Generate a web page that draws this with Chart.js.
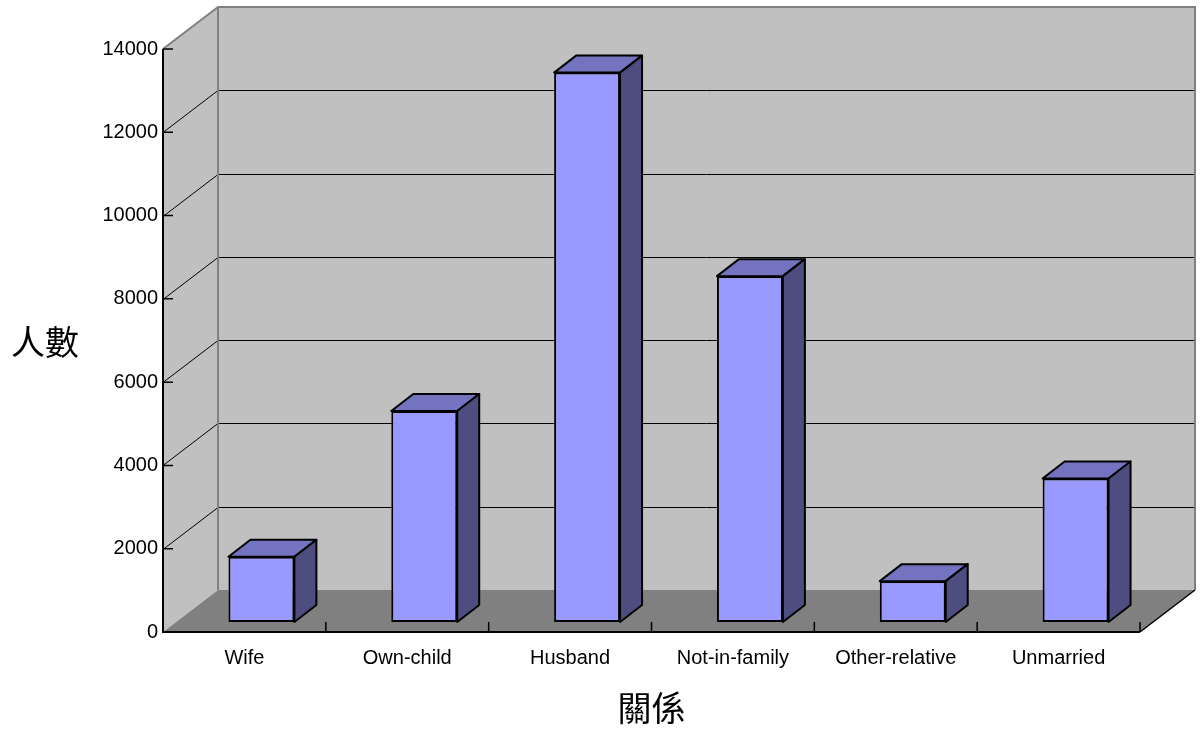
<!doctype html>
<html lang="zh-Hant">
  <head>
    <meta charset="utf-8">
    <title>關係 / 人數</title>
    <style>
      * {
        margin: 0;
        padding: 0;
      }
      body {
        background: #fff;
      }
      .chartBox {
        width: 1200px;
        height: 731px;
      }
    </style>
  </head>
  <body>
    <div class="chartBox">
      <canvas id="myChart" width="1200" height="731"></canvas>
    </div>
    <script src="https://cdn.jsdelivr.net/npm/chart.js/dist/chart.umd.min.js"></script>
    <script>
    // data
    const categories = ['Wife', 'Own-child', 'Husband', 'Not-in-family', 'Other-relative', 'Unmarried'];
    const counts = [1568, 5068, 13193, 8305, 981, 3446];
    const yMax = 14000;
    const yStep = 2000;
    const xTitle = '關係';
    const yTitle = '人數';

    // 3d look: wall depth, bar offset into the floor, bar depth
    const WALL_DX = 55, WALL_DY = -42;
    const SHIFT_X = 17, SHIFT_Y = -10;
    const DEPTH_X = 22, DEPTH_Y = -17;

    const poly = (ctx, pts) => {
      ctx.beginPath();
      ctx.moveTo(pts[0][0], pts[0][1]);
      for (let i = 1; i < pts.length; i++) ctx.lineTo(pts[i][0], pts[i][1]);
      ctx.closePath();
    };

    const box3d = {
      id: 'box3d',
      beforeDatasetsDraw: (chart) => {
        const { ctx, chartArea: { left, right, top, bottom }, scales: { x, y } } = chart;
        const bl = left + WALL_DX, br = right + WALL_DX;
        const bt = top + WALL_DY, bb = bottom + WALL_DY;

        ctx.save();
        // walls and floor
        ctx.fillStyle = '#c0c0c0';
        poly(ctx, [[left, bottom], [bl, bb], [bl, bt], [left, top]]);
        ctx.fill();
        ctx.fillRect(bl, bt, br - bl, bb - bt);
        ctx.fillStyle = '#808080';
        poly(ctx, [[left, bottom], [bl, bb], [br, bb], [right, bottom]]);
        ctx.fill();

        // gridlines across side + back wall
        ctx.strokeStyle = '#000';
        ctx.lineWidth = 1;
        y.ticks.forEach(t => {
          if (t.value === 0 || t.value === yMax) return;
          const py = Math.round(y.getPixelForValue(t.value)) + 0.5;
          ctx.beginPath();
          ctx.moveTo(left, py);
          ctx.lineTo(bl, py + WALL_DY);
          ctx.lineTo(br, py + WALL_DY);
          ctx.stroke();
        });

        // wall edges
        ctx.strokeStyle = '#808080';
        ctx.lineWidth = 2;
        ctx.beginPath();
        ctx.moveTo(left, top);
        ctx.lineTo(bl, bt);
        ctx.lineTo(br, bt);
        ctx.lineTo(br, bb);
        ctx.moveTo(bl, bt);
        ctx.lineTo(bl, bb);
        ctx.stroke();

        // floor front-right edge
        ctx.strokeStyle = '#000';
        ctx.lineWidth = 1.5;
        ctx.beginPath();
        ctx.moveTo(right, bottom);
        ctx.lineTo(br, bb);
        ctx.stroke();

        // axis lines
        ctx.lineWidth = 2;
        ctx.beginPath();
        ctx.moveTo(left, top);
        ctx.lineTo(left, bottom);
        ctx.lineTo(right, bottom);
        ctx.stroke();

        // tick marks
        ctx.lineWidth = 1.5;
        ctx.beginPath();
        y.ticks.forEach(t => {
          const py = y.getPixelForValue(t.value);
          ctx.moveTo(left, py);
          ctx.lineTo(left + 10, py);
        });
        for (let k = 1; k <= categories.length; k++) {
          const px = left + (right - left) * k / categories.length;
          ctx.moveTo(px, bottom);
          ctx.lineTo(px, bottom - 10);
        }
        ctx.stroke();
        ctx.restore();

        // bars sit a little way back on the floor
        ctx.save();
        ctx.translate(SHIFT_X, SHIFT_Y);
      },
      afterDatasetsDraw: (chart) => {
        const { ctx, chartArea: { left, right } } = chart;
        const meta = chart.getDatasetMeta(0);

        ctx.lineWidth = 2;
        ctx.lineJoin = 'round';
        ctx.strokeStyle = '#000';
        meta.data.forEach(bar => {
          const { x, y, base, width } = bar.getProps(['x', 'y', 'base', 'width'], true);
          const l = x - width / 2, r = x + width / 2;
          // top face
          ctx.fillStyle = '#7373bf';
          poly(ctx, [[l, y], [l + DEPTH_X, y + DEPTH_Y], [r + DEPTH_X, y + DEPTH_Y], [r, y]]);
          ctx.fill();
          ctx.stroke();
          // side face
          ctx.fillStyle = '#4d4d80';
          poly(ctx, [[r, y], [r + DEPTH_X, y + DEPTH_Y], [r + DEPTH_X, base + DEPTH_Y], [r, base]]);
          ctx.fill();
          ctx.stroke();
        });
        ctx.restore();

        // axis titles
        ctx.save();
        ctx.fillStyle = '#000';
        ctx.font = '34px "Noto Sans CJK TC", sans-serif';
        ctx.textAlign = 'center';
        ctx.textBaseline = 'middle';
        ctx.fillText(yTitle, 45, 342);
        ctx.fillText(xTitle, (left + right) / 2, 708);
        ctx.restore();
      }
    };

    Chart.defaults.font.family = '"Liberation Sans", Arial, sans-serif';
    Chart.defaults.color = '#000';

    const config = {
      type: 'bar',
      data: {
        labels: categories,
        datasets: [{
          data: counts,
          backgroundColor: '#9999ff',
          borderColor: '#000',
          borderWidth: 2,
          borderSkipped: false,
          categoryPercentage: 1,
          barPercentage: 0.405,
          clip: false
        }]
      },
      options: {
        responsive: false,
        devicePixelRatio: 1,
        animation: false,
        events: [],
        layout: {
          padding: { top: 49, right: 60, left: 0, bottom: 0 }
        },
        scales: {
          x: {
            grid: { display: false, drawTicks: false },
            border: { display: false },
            ticks: { font: { size: 20 }, padding: 14, maxRotation: 0 },
            afterFit: (scale) => { scale.height = 99; }
          },
          y: {
            min: 0,
            max: yMax,
            grid: { display: false, drawTicks: false },
            border: { display: false },
            ticks: {
              stepSize: yStep,
              font: { size: 20 },
              padding: 5,
              callback: (value) => String(value)
            },
            afterFit: (scale) => { scale.width = 163; }
          }
        },
        plugins: {
          legend: { display: false },
          tooltip: { enabled: false },
          title: { display: false }
        }
      },
      plugins: [box3d]
    };

    const myChart = new Chart(document.getElementById('myChart'), config);
    </script>
  </body>
</html>
